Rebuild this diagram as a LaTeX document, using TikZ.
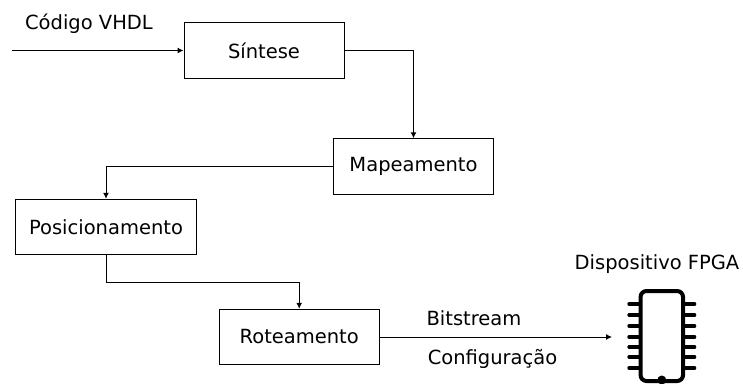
\documentclass[tikz,border=0pt]{standalone}
\usepackage{fontspec}
\setmainfont{DejaVu Sans}
\usepackage{tikz}
\usetikzlibrary{positioning,arrows.meta}
\tikzset{
  block/.style={draw,line width=1pt,minimum height=55.5pt,font=\fontsize{19.5}{22}\selectfont},
  label/.style={font=\fontsize{19.5}{22}\selectfont,inner sep=0pt},
  wire/.style={line width=1pt,-{Latex[length=6pt,width=6pt]}},
  pin/.style={line width=3.5pt,line cap=round}
}
\begin{document}
\begin{tikzpicture}[x=1pt,y=1pt,on grid,auto]
   \useasboundingbox (0,0) rectangle (743,-383);

   \node[block,minimum width=160pt] (sintese) at (264,-50.5) {Síntese};
   \node[block,minimum width=160pt] (mapeamento) [below right=116pt and 149.5pt of sintese] {Mapeamento};
   \node[block,minimum width=181pt] (posicionamento) [below left=60.5pt and 307.5pt of mapeamento] {Posicionamento};
   \node[block,minimum width=160pt] (roteamento) [below right=110pt and 193.2pt of posicionamento] {Roteamento};

   \node[draw,line width=4pt,rounded corners=6pt,minimum width=42.5pt,minimum height=90pt] (chip) [above right=1pt and 362.6pt of roteamento] {};
   \coordinate (entrada) at (12,-50.5);
   \coordinate[right=312.8pt of roteamento] (saida);

   \node[label] (codigo) [above left=26.5pt and 175pt of sintese] {Código VHDL};
   \node[label] (dispositivo) [above left=72pt and 4.8pt of chip] {Dispositivo FPGA};
   \node[label] (bitstream) [above right=19pt and 174.8pt of roteamento] {Bitstream};
   \node[label] (configuracao) [below right=21.5pt and 193.3pt of roteamento] {Configuração};

   % pinos
   \foreach \i/\ypos in {1/32,2/21,3/10,4/-1,5/-11,6/-21,7/-32} {
     \draw[pin] ([yshift=\ypos pt]chip.west) -- ++(-9.5,0);
     \draw[pin] ([yshift=\ypos pt]chip.east) -- ++(9.5,0);
   }
   \fill ([yshift=3pt]chip.south) circle (4.5pt);

   \draw[wire] (entrada) -- (sintese);
   \draw[wire] (sintese.east) -| (mapeamento.north);
   \draw[wire] (mapeamento.west) -| (posicionamento.north);
   \draw[wire] (posicionamento.south) -- ++(0,-27.5) -| (roteamento.north);
   \draw[wire] (roteamento) -- (saida);
\end{tikzpicture}
\end{document}
